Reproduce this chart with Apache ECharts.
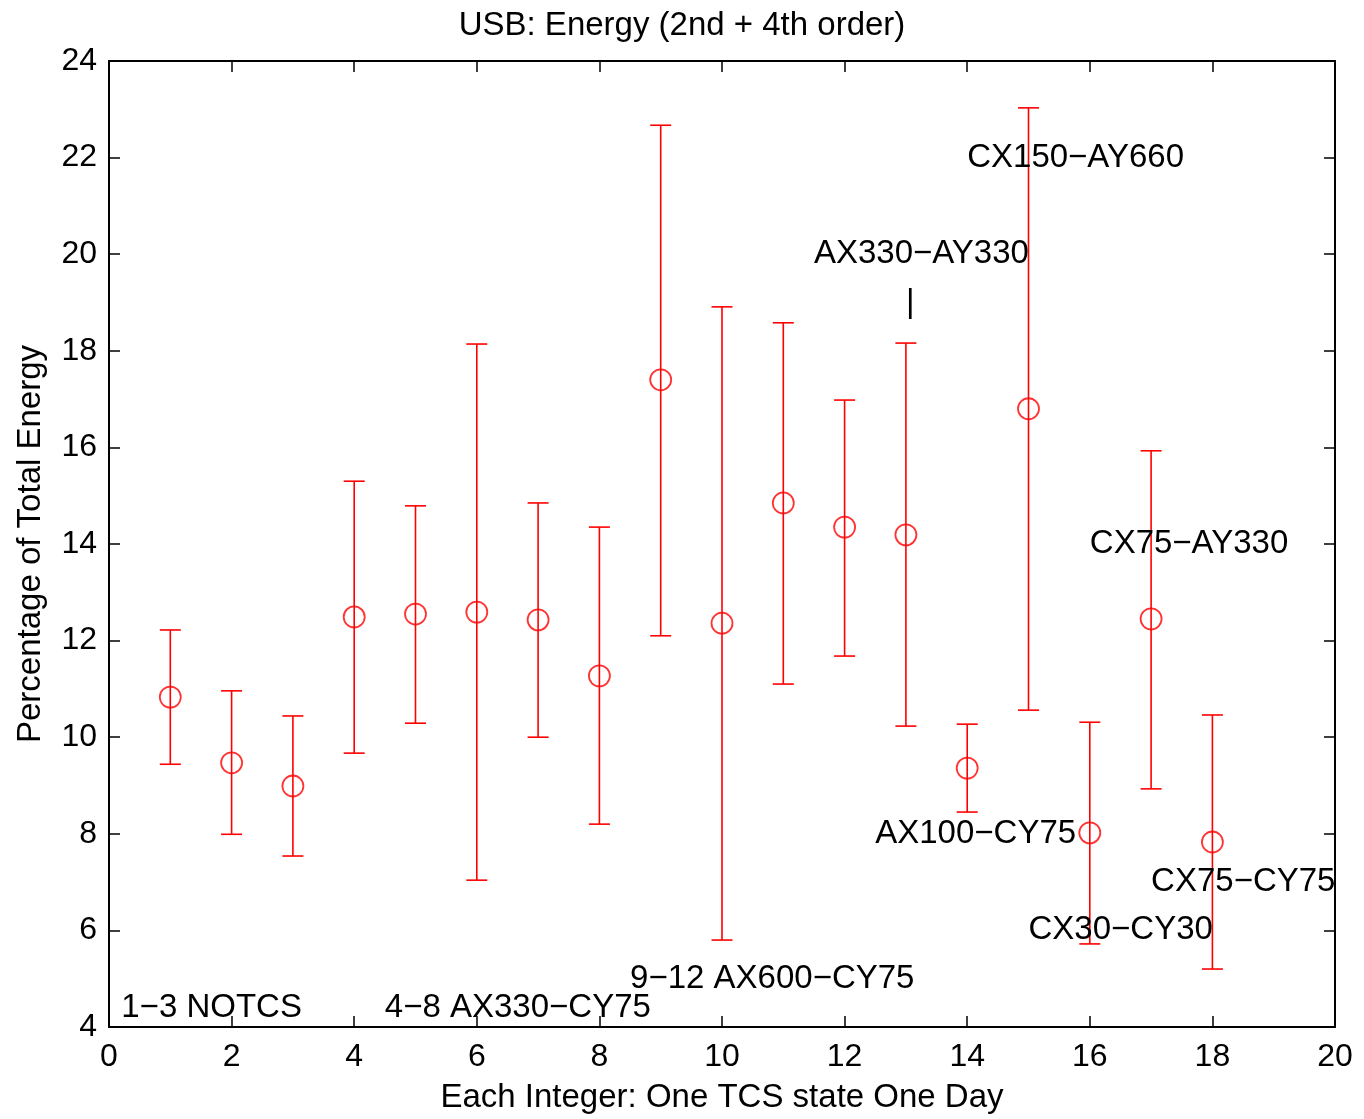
<!DOCTYPE html>
<html>
<head>
<meta charset="utf-8">
<script src="https://cdn.jsdelivr.net/npm/echarts@6/dist/echarts.min.js"></script>
<style>
html,body{margin:0;padding:0;background:#fff;}
#chart{width:1364px;height:1119px;}
</style>
</head>
<body>
<div id="chart"></div>
<script>
// ---- data ----
var xs = [1,2,3,4,5,6,7,8,9,10,11,12,13,14,15,16,17,18];
var means = [10.83, 9.47, 8.99, 12.49, 12.55, 12.59, 12.43, 11.27, 17.40, 12.36, 14.85, 14.35, 14.19, 9.36, 16.80, 8.02, 12.45, 7.83];
var lows  = [9.44, 7.99, 7.54, 9.67, 10.29, 7.04, 10.00, 8.20, 12.10, 5.80, 11.10, 11.68, 10.23, 8.45, 10.56, 5.72, 8.93, 5.20];
var highs = [12.22, 10.96, 10.44, 15.30, 14.79, 18.14, 14.85, 14.35, 22.67, 18.91, 18.58, 16.98, 18.16, 10.27, 23.03, 10.31, 15.93, 10.46];

var annoTexts = ['1\u22123 NOTCS', '4\u22128 AX330\u2212CY75', '9\u221212 AX600\u2212CY75', 'AX330\u2212AY330', '|', 'CX150\u2212AY660', 'CX75\u2212AY330', 'AX100\u2212CY75', 'CX75\u2212CY75', 'CX30\u2212CY30'];
var annoX = [0.2, 4.5, 8.5, 11.5, 13.0, 14.0, 16.0, 12.5, 17.0, 15.0];
var annoY = [4.4, 4.4, 5.0, 20.0, 19.0, 22.0, 14.0, 8.0, 7.0, 6.0];

var xTicks = [0,2,4,6,8,10,12,14,16,18,20];
var yTicks = [4,6,8,10,12,14,16,18,20,22,24];

var titleText = 'USB: Energy (2nd + 4th order)';
var xName = 'Each Integer: One TCS state One Day';
var yName = 'Percentage of Total Energy';

// ---- chart ----
var FONT = '"Liberation Sans", Arial, Helvetica, sans-serif';
var chart = echarts.init(document.getElementById('chart'), null, {renderer: 'canvas'});

var errData = xs.map(function (x, i) { return [x, lows[i], highs[i]]; });
var ptData = xs.map(function (x, i) { return [x, means[i]]; });
var annoData = annoTexts.map(function (t, i) { return {value: [annoX[i], annoY[i]], name: t}; });

var axisCommon = {
  type: 'value',
  splitLine: {show: false},
  axisLine: {show: true, onZero: false, lineStyle: {color: '#000', width: 2}},
  axisTick: {show: true, inside: true, length: 11, lineStyle: {color: '#000', width: 1.5}},
  axisLabel: {color: '#000', fontSize: 32, fontFamily: FONT, margin: 12}
};

var option = {
  backgroundColor: '#fff',
  animation: false,
  title: {
    text: titleText,
    left: 'center',
    top: 4,
    textStyle: {fontSize: 33, fontWeight: 'normal', color: '#000', fontFamily: FONT}
  },
  grid: {left: 109, right: 29, top: 61, bottom: 92, containLabel: false},
  xAxis: [
    Object.assign({}, axisCommon, {
      position: 'bottom', min: xTicks[0], max: xTicks[xTicks.length - 1], interval: 2,
      axisLabel: {color: '#000', fontSize: 32, fontFamily: FONT, margin: 14},
      name: xName, nameLocation: 'middle', nameGap: 54,
      nameTextStyle: {fontSize: 33, color: '#000', fontFamily: FONT}
    }),
    Object.assign({}, axisCommon, {
      position: 'top', min: xTicks[0], max: xTicks[xTicks.length - 1], interval: 2,
      axisLabel: {show: false}
    })
  ],
  yAxis: [
    Object.assign({}, axisCommon, {
      position: 'left', min: yTicks[0], max: yTicks[yTicks.length - 1], interval: 2,
      axisLabel: {color: '#000', fontSize: 32, fontFamily: FONT, margin: 12, padding: [4, 0, 0, 0]},
      name: yName, nameLocation: 'middle', nameGap: 62, nameRotate: 90,
      nameTextStyle: {fontSize: 33, color: '#000', fontFamily: FONT}
    }),
    Object.assign({}, axisCommon, {
      position: 'right', min: yTicks[0], max: yTicks[yTicks.length - 1], interval: 2,
      axisLabel: {show: false}
    })
  ],
  series: [
    {
      type: 'custom',
      xAxisIndex: 0, yAxisIndex: 0,
      data: errData,
      renderItem: function (params, api) {
        var x = api.value(0);
        var lo = api.coord([x, api.value(1)]);
        var hi = api.coord([x, api.value(2)]);
        var hw = 10.5;
        var style = {stroke: '#ff0000', lineWidth: 1.6, fill: null};
        return {
          type: 'group',
          children: [
            {type: 'line', shape: {x1: lo[0], y1: lo[1], x2: hi[0], y2: hi[1]}, style: style},
            {type: 'line', shape: {x1: lo[0] - hw, y1: lo[1], x2: lo[0] + hw, y2: lo[1]}, style: style},
            {type: 'line', shape: {x1: hi[0] - hw, y1: hi[1], x2: hi[0] + hw, y2: hi[1]}, style: style}
          ]
        };
      },
      z: 2
    },
    {
      type: 'scatter',
      xAxisIndex: 0, yAxisIndex: 0,
      data: ptData,
      symbol: 'circle',
      symbolSize: 21,
      itemStyle: {color: 'rgba(0,0,0,0)', borderColor: '#ff0000', borderWidth: 1.8},
      z: 3
    },
    {
      type: 'scatter',
      xAxisIndex: 0, yAxisIndex: 0,
      data: annoData,
      symbol: 'circle',
      symbolSize: 0,
      itemStyle: {color: '#000', opacity: 1},
      label: {
        show: true,
        position: 'right',
        distance: 0,
        offset: [0, 3],
        formatter: function (p) { return p.name; },
        color: '#000',
        opacity: 1,
        fontSize: 33,
        fontFamily: FONT
      },
      emphasis: {disabled: true},
      labelLayout: {hideOverlap: false},
      silent: true,
      z: 4
    }
  ]
};
chart.setOption(option);
</script>
</body>
</html>
